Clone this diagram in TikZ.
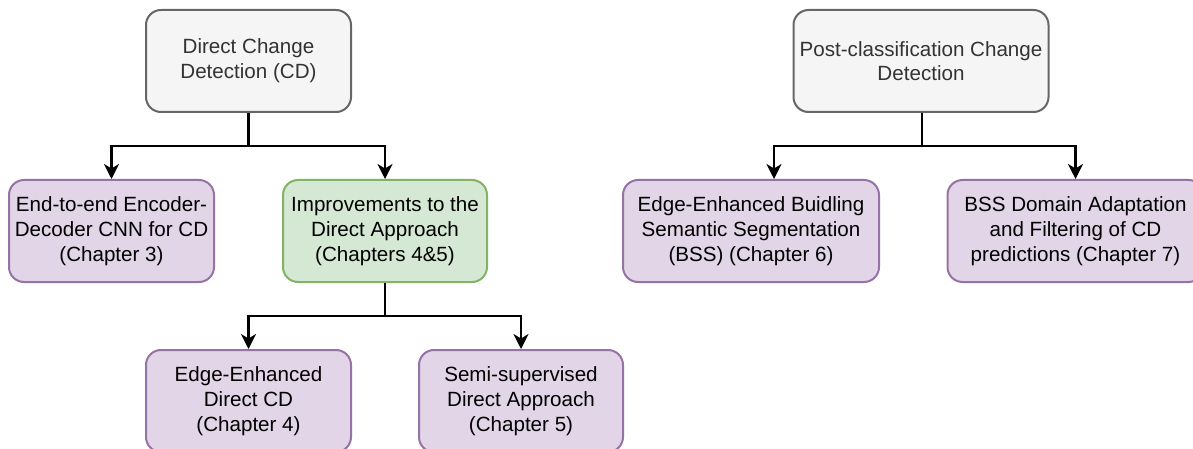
\documentclass[tikz,border=0pt]{standalone}
\usepackage{fontspec}
\setmainfont{Liberation Sans}
\usetikzlibrary{arrows.meta,calc}
\definecolor{grayfill}{HTML}{F5F5F5}
\definecolor{graydraw}{HTML}{666666}
\definecolor{graytext}{HTML}{333333}
\definecolor{purfill}{HTML}{E1D5E7}
\definecolor{purdraw}{HTML}{9673A6}
\definecolor{grnfill}{HTML}{D5E8D4}
\definecolor{grndraw}{HTML}{82B366}
\tikzset{
  box/.style={rounded corners=15pt, line width=2pt, align=center, inner sep=0pt,
    minimum height=102pt, font=\fontsize{20.6pt}{24.7pt}\selectfont},
  graybox/.style={box, fill=grayfill, draw=graydraw, text=graytext},
  purbox/.style={box, fill=purfill, draw=purdraw, text=black},
  grnbox/.style={box, fill=grnfill, draw=grndraw, text=black},
  conn/.style={line width=2.2pt, draw=black, -{Stealth[length=15pt,width=15pt,inset=4.5pt]}},
  trunk/.style={line width=2.2pt, draw=black},
}
\begin{document}
\begin{tikzpicture}[x=1pt,y=-1pt]
\useasboundingbox (0,0) rectangle (1193,449);
\clip (0,0) rectangle (1193,449);
\node[graybox, minimum width=205pt] (dcd) at (248.5,61) {Direct Change\\Detection (CD)};
\node[purbox, minimum width=205pt] (e2e) at (111.5,231) {End-to-end Encoder-\\Decoder CNN for CD\\(Chapter 3)};
\node[grnbox, minimum width=204pt] (imp) at (385,231) {Improvements to the\\Direct Approach\\(Chapters 4\&5)};
\node[purbox, minimum width=205pt] (ee) at (248.5,401) {Edge-Enhanced\\Direct CD\\(Chapter 4)};
\node[purbox, minimum width=204pt] (semi) at (521,401) {Semi-supervised\\Direct Approach\\(Chapter 5)};
\node[graybox, minimum width=255pt] (pcd) at (921,61) {Post-classification Change\\Detection};
\node[purbox, minimum width=256pt] (bss) at (751,231) {Edge-Enhanced Buidling\\Semantic Segmentation\\(BSS) (Chapter 6)};
\node[purbox, minimum width=256pt] (ch7) at (1075.5,231) {BSS Domain Adaptation\\and Filtering of CD\\predictions (Chapter 7)};
\coordinate (j1) at (248.5,146);
\coordinate (j2) at (385,316);
\coordinate (j3) at (922,146);
\draw[trunk] (dcd.south) -- (j1);
\draw[conn] (j1) -| (e2e.north);
\draw[conn] (j1) -| (imp.north);
\draw[trunk] (imp.south) -- (j2);
\draw[conn] (j2) -| (ee.north);
\draw[conn] (j2) -| (semi.north);
\draw[trunk] (pcd.south -| j3) -- (j3);
\draw[conn] (j3) -| ([xshift=23pt]bss.north);
\draw[conn] (j3) -| (ch7.north);
\end{tikzpicture}
\end{document}
